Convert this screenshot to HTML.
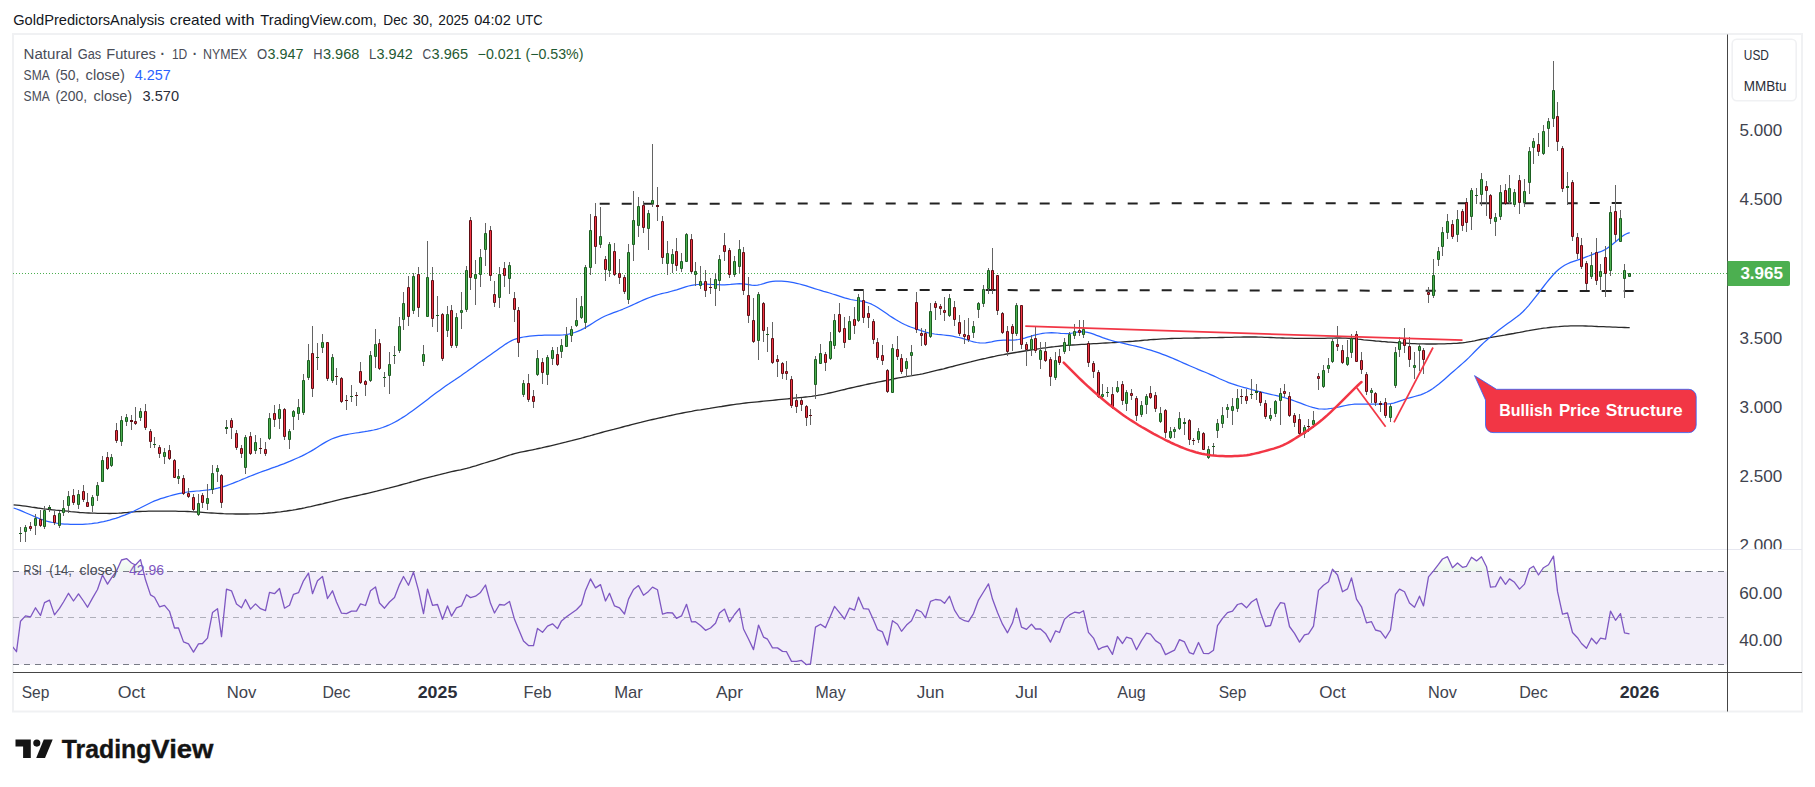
<!DOCTYPE html>
<html lang="en"><head><meta charset="utf-8"><title>Natural Gas Futures chart</title>
<style>html,body{margin:0;padding:0;background:#fff;}body{width:1815px;height:787px;overflow:hidden;}svg{display:block;}text{font-family:'Liberation Sans', 'DejaVu Sans', sans-serif;}</style>
</head><body>
<svg width="1815" height="787" viewBox="0 0 1815 787">
<defs>
<clipPath id="cpMain"><rect x="13" y="35" width="1714.5" height="514"/></clipPath>
<clipPath id="cpRsi"><rect x="13" y="550" width="1714.5" height="122"/></clipPath>
<clipPath id="cpAxisMain"><rect x="1728" y="35" width="74" height="514"/></clipPath>
<linearGradient id="gOB" x1="0" y1="551" x2="0" y2="571.5" gradientUnits="userSpaceOnUse"><stop offset="0" stop-color="#4caf50" stop-opacity="0.0"/><stop offset="1" stop-color="#4caf50" stop-opacity="0.1"/></linearGradient>
</defs>
<rect x="0" y="0" width="1815" height="787" fill="#ffffff"/>
<text y="24.8" font-size="15" fill="#131722"><tspan x="13.2" textLength="151.5" lengthAdjust="spacingAndGlyphs">GoldPredictorsAnalysis</tspan> <tspan x="169.8" textLength="51.2" lengthAdjust="spacingAndGlyphs">created</tspan> <tspan x="225.5" textLength="29" lengthAdjust="spacingAndGlyphs">with</tspan> <tspan x="260.3" textLength="116.5" lengthAdjust="spacingAndGlyphs">TradingView.com,</tspan> <tspan x="383.3" textLength="24.3" lengthAdjust="spacingAndGlyphs">Dec</tspan> <tspan x="412.7" textLength="20.2" lengthAdjust="spacingAndGlyphs">30,</tspan> <tspan x="438.3" textLength="30.4" lengthAdjust="spacingAndGlyphs">2025</tspan> <tspan x="474.2" textLength="36.6" lengthAdjust="spacingAndGlyphs">04:02</tspan> <tspan x="515.9" textLength="26.6" lengthAdjust="spacingAndGlyphs">UTC</tspan></text>
<rect x="13" y="34" width="1789" height="677.5" fill="#ffffff" stroke="#f0f1f3" stroke-width="2"/>
<rect x="13" y="549" width="1789" height="1" fill="#e6e7f0"/>
<g clip-path="url(#cpRsi)">
<rect x="13" y="571.5" width="1714.5" height="93" fill="#7e57c2" fill-opacity="0.1"/>
<path d="M116.5 571.5 L116.5 571.1 L117.1 569.7 L117.8 568.3 L118.4 566.9 L119 565.5 L119.6 564.2 L120.2 562.8 L120.9 561.4 L121.5 560 L122.1 559.8 L122.8 559.6 L123.4 559.4 L124 559.3 L124.6 559.1 L125.2 558.9 L125.9 558.8 L126.5 558.6 L127.1 559.2 L127.8 559.7 L128.4 560.3 L129 560.8 L129.6 561.4 L130.2 561.9 L130.9 562.5 L131.5 563 L132 563.3 L132.5 563.5 L133 563.8 L133.5 564 L134 564.2 L134.5 564.5 L135 564.7 L135.5 565 L136.1 564.3 L136.8 563.6 L137.4 562.9 L138 562.3 L138.6 561.6 L139.2 560.9 L139.9 560.2 L140.5 559.6 L141.1 562.1 L141.8 564.6 L142.4 567.2 L143 569.7 L143 571.5 Z" fill="url(#gOB)"/>
<path d="M1332 571.5 L1332 570.8 L1332.5 569.2 L1333.1 569.9 L1333.8 570.7 L1334.4 571.4 L1334.4 571.5 Z" fill="url(#gOB)"/>
<path d="M1433.5 571.5 L1433.5 570.8 L1434.1 570 L1434.8 569.2 L1435.4 568.4 L1436 567.6 L1436.6 566.8 L1437.2 566 L1437.9 565.2 L1438.5 564.4 L1439 563.7 L1439.5 563 L1440 562.4 L1440.5 561.7 L1441 561 L1441.5 560.3 L1442 559.7 L1442.5 559 L1443.1 558.7 L1443.8 558.4 L1444.4 558.1 L1445 557.8 L1445.6 557.5 L1446.2 557.3 L1446.9 557 L1447.5 556.7 L1448.1 558.1 L1448.8 559.4 L1449.4 560.8 L1450 562.2 L1450.6 563.5 L1451.2 564.9 L1451.9 566.3 L1452.5 567.7 L1453.1 567.1 L1453.8 566.5 L1454.4 565.9 L1455 565.4 L1455.6 564.8 L1456.2 564.2 L1456.9 563.6 L1457.5 563 L1458.1 563.6 L1458.8 564.1 L1459.4 564.6 L1460 565.2 L1460.6 565.7 L1461.2 566.2 L1461.9 566.8 L1462.5 567.3 L1463 567.2 L1463.5 567 L1464 566.9 L1464.5 566.8 L1465 566.7 L1465.5 566.6 L1466 566.4 L1466.5 566.3 L1467.1 565.2 L1467.8 564.1 L1468.4 562.9 L1469 561.8 L1469.6 560.7 L1470.2 559.5 L1470.9 558.4 L1471.5 557.3 L1472.1 557.7 L1472.8 558.2 L1473.4 558.6 L1474 559.1 L1474.6 559.5 L1475.2 560 L1475.9 560.5 L1476.5 560.9 L1477.1 560.4 L1477.8 559.9 L1478.4 559.3 L1479 558.8 L1479.6 558.3 L1480.2 557.7 L1480.9 557.2 L1481.5 556.7 L1482.1 557.9 L1482.8 559.2 L1483.4 560.4 L1484 561.7 L1484.6 562.9 L1485.2 564.2 L1485.9 565.5 L1486.5 566.7 L1487 569.3 L1487 571.5 Z" fill="url(#gOB)"/>
<path d="M1528.9 571.5 L1528.9 570.7 L1529.5 568.8 L1530 568.5 L1530.5 568.2 L1531 567.9 L1531.5 567.6 L1532 567.3 L1532.5 566.9 L1533 566.6 L1533.5 566.3 L1534.1 567.4 L1534.8 568.5 L1535.4 569.6 L1536 570.7 L1536 571.5 Z" fill="url(#gOB)"/>
<path d="M1541 571.5 L1541 571.3 L1541.6 570.4 L1542.2 569.5 L1542.9 568.6 L1543.5 567.7 L1544.1 567.3 L1544.8 566.9 L1545.4 566.6 L1546 566.2 L1546.6 565.9 L1547.2 565.5 L1547.9 565.1 L1548.5 564.8 L1549.1 563.7 L1549.8 562.6 L1550.4 561.5 L1551 560.4 L1551.6 559.4 L1552.2 558.3 L1552.9 557.2 L1553.5 556.1 L1554 560.5 L1554.5 564.9 L1555 569.3 L1555 571.5 Z" fill="url(#gOB)"/>
<line x1="13" y1="571.5" x2="1727.5" y2="571.5" stroke="#787b86" stroke-width="1" stroke-dasharray="6 5"/>
<line x1="13" y1="617.5" x2="1727.5" y2="617.5" stroke="#787b86" stroke-opacity="0.55" stroke-width="1" stroke-dasharray="6 5"/>
<line x1="13" y1="664.5" x2="1727.5" y2="664.5" stroke="#787b86" stroke-width="1" stroke-dasharray="6 5"/>
<path d="M11.5 645.4 L16.5 651.7 L20.5 621.3 L25.5 615.9 L30.5 617 L35.5 607.8 L40.5 615.5 L44.5 602.6 L49.5 600.1 L54.5 614.9 L59.5 608.4 L63.5 602 L68.5 593.3 L73.5 601 L78.5 593.9 L83.5 601 L87.5 607.2 L92.5 598.1 L97.5 589.5 L102.5 575 L107.5 584.1 L111.5 577.9 L116.5 571.1 L121.5 560 L126.5 558.6 L131.5 563 L135.5 565 L140.5 559.6 L145.5 579.8 L150.5 594.9 L154.5 597.2 L159.5 606.8 L164.5 605.3 L169.5 611.3 L174.5 628 L178.5 628 L183.5 641.9 L188.5 643.8 L193.5 652.1 L198.5 643.8 L202.5 643.5 L207.5 638.1 L212.5 612.6 L217.5 608.7 L221.5 636.7 L226.5 589.1 L231.5 590.8 L236.5 603.9 L241.5 607.8 L245.5 599.5 L250.5 609.1 L255.5 603.9 L260.5 608.7 L265.5 610.7 L269.5 592.4 L274.5 593.7 L279.5 588.5 L284.5 608.2 L289.5 605.3 L293.5 594.3 L298.5 592.7 L303.5 580.8 L308.5 573.1 L312.5 593.7 L317.5 580.8 L322.5 576.5 L327.5 598.5 L332.5 590.8 L336.5 602 L341.5 613.2 L346.5 613.6 L351.5 611.1 L356.5 611.1 L360.5 603.9 L365.5 605.5 L370.5 590.8 L375.5 587 L379.5 603 L384.5 608.2 L389.5 602 L394.5 597.6 L399.5 584.6 L403.5 576.5 L408.5 585.2 L413.5 572.1 L418.5 590.4 L423.5 613.6 L427.5 589.1 L432.5 605.3 L437.5 604.5 L442.5 619.3 L447.5 605.9 L451.5 616.1 L456.5 607.8 L461.5 605.9 L466.5 594.7 L470.5 597.6 L475.5 596.2 L480.5 592.4 L485.5 585 L490.5 603.3 L494.5 613 L499.5 604.5 L504.5 605.1 L509.5 601.4 L514.5 619.3 L518.5 629 L523.5 641.1 L528.5 645.6 L533.5 645.6 L537.5 628.4 L542.5 632.3 L547.5 626.1 L552.5 623.8 L557.5 628.6 L561.5 620.9 L566.5 616.8 L571.5 613.2 L576.5 609.7 L581.5 604.5 L585.5 590.4 L590.5 578.9 L595.5 587.9 L600.5 584.6 L605.5 601 L609.5 593.3 L614.5 605.9 L619.5 607.8 L624.5 614 L628.5 599.1 L633.5 589.5 L638.5 585.6 L643.5 595.2 L648.5 591.4 L652.5 587.1 L657.5 589.8 L662.5 614.1 L667.5 612.6 L672.5 613 L676.5 618.4 L681.5 615.9 L686.5 604.3 L691.5 621.9 L695.5 621.7 L700.5 625.5 L705.5 630.3 L710.5 628 L715.5 623.2 L719.5 613 L724.5 609.1 L729.5 621.9 L734.5 614.5 L739.5 608.4 L743.5 629 L748.5 639 L753.5 649.6 L758.5 625.1 L763.5 637.1 L767.5 639.2 L772.5 647.9 L777.5 647.9 L782.5 651.4 L786.5 651.7 L791.5 661.4 L796.5 661.4 L801.5 660.4 L806.5 664.7 L810.5 663.9 L815.5 627.1 L820.5 624.2 L825.5 627.6 L830.5 616.1 L834.5 606.4 L839.5 612.6 L844.5 619 L849.5 608.2 L854.5 610.1 L858.5 597.2 L863.5 608.7 L868.5 609.1 L873.5 619.9 L877.5 629.6 L882.5 631.9 L887.5 645 L892.5 620.7 L897.5 624.2 L901.5 631.3 L906.5 625.1 L911.5 620.7 L916.5 609.7 L921.5 612 L925.5 617.8 L930.5 601.4 L935.5 599.5 L940.5 600.1 L944.5 603.3 L949.5 596.2 L954.5 610.1 L959.5 618 L964.5 620.7 L968.5 621.7 L973.5 613.6 L978.5 600.1 L983.5 592 L988.5 583.9 L992.5 599.1 L997.5 612.6 L1002.5 624.2 L1007.5 632.8 L1012.5 622.8 L1016.5 608.2 L1021.5 627.1 L1026.5 629.4 L1031.5 624.2 L1035.5 629 L1040.5 629 L1045.5 633.4 L1050.5 642.1 L1055.5 630.9 L1059.5 632.5 L1064.5 619.3 L1069.5 614.9 L1074.5 612.2 L1079.5 613 L1083.5 610.7 L1088.5 632.3 L1093.5 638.1 L1098.5 649.6 L1102.5 647.3 L1107.5 646 L1112.5 654.4 L1117.5 636.7 L1122.5 643.5 L1126.5 637.1 L1131.5 638.6 L1136.5 649.8 L1141.5 640.6 L1146.5 633.2 L1150.5 634.2 L1155.5 640.6 L1160.5 644 L1165.5 654.6 L1170.5 652.1 L1174.5 650.2 L1179.5 639.6 L1184.5 641.9 L1189.5 652.7 L1193.5 654.1 L1198.5 642.5 L1203.5 653.3 L1208.5 653.7 L1213.5 650.2 L1217.5 625.7 L1222.5 618.4 L1227.5 612.6 L1232.5 611.1 L1237.5 604.5 L1241.5 603.3 L1246.5 607.8 L1251.5 602 L1256.5 598.7 L1260.5 612.6 L1265.5 626.5 L1270.5 625.5 L1275.5 610.3 L1280.5 602.6 L1284.5 603.3 L1289.5 626.5 L1294.5 633.4 L1299.5 642.1 L1304.5 634.8 L1308.5 633.8 L1313.5 626.1 L1318.5 590.4 L1323.5 585.2 L1328.5 581.7 L1332.5 569.2 L1337.5 575 L1342.5 591.8 L1347.5 588.9 L1351.5 577.9 L1356.5 599.1 L1361.5 606.8 L1366.5 622.8 L1371.5 621.7 L1375.5 630 L1380.5 631.3 L1385.5 638.2 L1390.5 630 L1395.5 594.3 L1399.5 589.1 L1404.5 591.8 L1409.5 603 L1414.5 607.2 L1419.5 596.2 L1423.5 605.9 L1428.5 576.9 L1433.5 570.8 L1438.5 564.4 L1442.5 559 L1447.5 556.7 L1452.5 567.7 L1457.5 563 L1462.5 567.3 L1466.5 566.3 L1471.5 557.3 L1476.5 560.9 L1481.5 556.7 L1486.5 566.7 L1490.5 587.1 L1495.5 586.6 L1500.5 576.9 L1505.5 584.3 L1509.5 578.9 L1514.5 582.3 L1519.5 589.1 L1524.5 584.1 L1529.5 568.8 L1533.5 566.3 L1538.5 575 L1543.5 567.7 L1548.5 564.8 L1553.5 556.1 L1557.5 591.4 L1562.5 614.1 L1567.5 613 L1572.5 632.5 L1577.5 637.7 L1581.5 643.5 L1586.5 648.3 L1591.5 638.2 L1596.5 643.8 L1600.5 638.2 L1605.5 639.2 L1610.5 611.1 L1615.5 620.3 L1620.5 613.6 L1624.5 632.8 L1629.5 633.8" fill="none" stroke="#7e57c2" stroke-width="1.3" stroke-linejoin="round"/>
</g>
<text y="575.2" font-size="14" fill="#4a4d57"><tspan x="23.5" textLength="18.4" lengthAdjust="spacingAndGlyphs">RSI</tspan> <tspan x="49.3" textLength="22.7" lengthAdjust="spacingAndGlyphs">(14,</tspan> <tspan x="79.5" textLength="37.8" lengthAdjust="spacingAndGlyphs">close)</tspan></text>
<text x="129" y="575.2" font-size="14" fill="#7e57c2" textLength="35" lengthAdjust="spacingAndGlyphs">42.96</text>
<g clip-path="url(#cpMain)">
<line x1="13" y1="273.5" x2="1727.5" y2="273.5" stroke="#4caf50" stroke-width="1" stroke-dasharray="1 2"/>
<line x1="599.7" y1="203.7" x2="1621.8" y2="203.1" stroke="#222222" stroke-width="2" stroke-dasharray="10 12"/>
<line x1="853.7" y1="289.9" x2="1633.8" y2="291" stroke="#222222" stroke-width="2" stroke-dasharray="10 12"/>
<path d="M13.6 504.8 L16.6 505.1 L19.6 505.4 L22.6 505.8 L25.6 506.2 L28.6 506.6 L31.6 507.1 L34.6 507.5 L37.6 508 L40.6 508.4 L43.6 508.8 L46.6 509.1 L49.6 509.5 L52.6 509.8 L55.6 510.1 L58.6 510.3 L61.6 510.6 L64.6 510.9 L67.6 511.2 L70.6 511.6 L73.6 511.9 L76.6 512.2 L79.6 512.5 L82.6 512.7 L85.6 512.9 L88.6 513 L91.6 513.1 L94.6 513.2 L97.6 513.3 L100.6 513.3 L103.6 513.4 L106.6 513.4 L109.6 513.5 L112.6 513.4 L115.6 513.3 L118.6 513.2 L121.6 513 L124.6 512.7 L127.6 512.5 L130.6 512.2 L133.6 511.9 L136.6 511.7 L139.6 511.5 L142.6 511.4 L145.6 511.3 L148.6 511.2 L151.6 511.2 L154.6 511.1 L157.6 511.1 L160.6 511.1 L163.6 511.1 L166.6 511.1 L169.6 511.2 L172.6 511.2 L175.6 511.2 L178.6 511.3 L181.6 511.3 L184.6 511.4 L187.6 511.5 L190.6 511.6 L193.6 511.8 L196.6 512 L199.6 512.2 L202.6 512.4 L205.6 512.6 L208.6 512.8 L211.6 513 L214.6 513.2 L217.6 513.4 L220.6 513.5 L223.6 513.7 L226.6 513.8 L229.6 513.9 L232.6 513.9 L235.6 514 L238.6 514 L241.6 514 L244.6 514 L247.6 514 L250.6 513.9 L253.6 513.9 L256.6 513.8 L259.6 513.6 L262.6 513.5 L265.6 513.3 L268.6 513 L271.6 512.8 L274.6 512.5 L277.6 512.1 L280.6 511.8 L283.6 511.4 L286.6 511 L289.6 510.5 L292.6 510.1 L295.6 509.6 L298.6 509 L301.6 508.5 L304.6 507.9 L307.6 507.2 L310.6 506.6 L313.6 505.9 L316.6 505.2 L319.6 504.5 L322.6 503.8 L325.6 503 L328.6 502.3 L331.6 501.6 L334.6 500.8 L337.6 500.1 L340.6 499.4 L343.6 498.7 L346.6 498 L349.6 497.3 L352.6 496.6 L355.6 496 L358.6 495.3 L361.6 494.7 L364.6 494 L367.6 493.3 L370.6 492.6 L373.6 491.9 L376.6 491.2 L379.6 490.4 L382.6 489.7 L385.6 488.9 L388.6 488.2 L391.6 487.4 L394.6 486.6 L397.6 485.8 L400.6 485 L403.6 484.2 L406.6 483.4 L409.6 482.5 L412.6 481.7 L415.6 480.8 L418.6 480 L421.6 479.2 L424.6 478.4 L427.6 477.6 L430.6 476.8 L433.6 476.1 L436.6 475.3 L439.6 474.6 L442.6 473.8 L445.6 473.1 L448.6 472.3 L451.6 471.6 L454.6 471 L457.6 470.4 L460.6 469.8 L463.6 469.1 L466.6 468.4 L469.6 467.6 L472.6 466.7 L475.6 465.8 L478.6 464.8 L481.6 463.9 L484.6 463 L487.6 462.1 L490.6 461.2 L493.6 460.3 L496.6 459.4 L499.6 458.4 L502.6 457.4 L505.6 456.4 L508.6 455.4 L511.6 454.5 L514.6 453.7 L517.6 452.9 L520.6 452.2 L523.6 451.6 L526.6 451 L529.6 450.4 L532.6 449.8 L535.6 449.2 L538.6 448.5 L541.6 447.9 L544.6 447.2 L547.6 446.5 L550.6 445.8 L553.6 445.1 L556.6 444.4 L559.6 443.7 L562.6 442.9 L565.6 442.2 L568.6 441.4 L571.6 440.7 L574.6 439.9 L577.6 439.1 L580.6 438.4 L583.6 437.5 L586.6 436.7 L589.6 435.9 L592.6 435 L595.6 434.2 L598.6 433.3 L601.6 432.5 L604.6 431.7 L607.6 430.9 L610.6 430.1 L613.6 429.4 L616.6 428.6 L619.6 427.8 L622.6 427 L625.6 426.2 L628.6 425.5 L631.6 424.7 L634.6 423.9 L637.6 423.1 L640.6 422.4 L643.6 421.6 L646.6 420.9 L649.6 420.2 L652.6 419.5 L655.6 418.8 L658.6 418.1 L661.6 417.5 L664.6 416.8 L667.6 416.1 L670.6 415.5 L673.6 414.8 L676.6 414.2 L679.6 413.6 L682.6 413 L685.6 412.4 L688.6 411.8 L691.6 411.3 L694.6 410.7 L697.6 410.2 L700.6 409.8 L703.6 409.3 L706.6 408.8 L709.6 408.4 L712.6 407.9 L715.6 407.4 L718.6 406.9 L721.6 406.5 L724.6 406 L727.6 405.5 L730.6 405 L733.6 404.6 L736.6 404.2 L739.6 403.8 L742.6 403.4 L745.6 403 L748.6 402.7 L751.6 402.4 L754.6 402.1 L757.6 401.8 L760.6 401.5 L763.6 401.2 L766.6 400.9 L769.6 400.6 L772.6 400.3 L775.6 400 L778.6 399.7 L781.6 399.4 L784.6 399.1 L787.6 398.8 L790.6 398.5 L793.6 398.2 L796.6 397.9 L799.6 397.6 L802.6 397.3 L805.6 397 L808.6 396.7 L811.6 396.3 L814.6 395.8 L817.6 395.4 L820.6 394.8 L823.6 394.3 L826.6 393.7 L829.6 393 L832.6 392.3 L835.6 391.6 L838.6 390.9 L841.6 390.2 L844.6 389.5 L847.6 388.7 L850.6 388 L853.6 387.3 L856.6 386.6 L859.6 386 L862.6 385.3 L865.6 384.7 L868.6 384 L871.6 383.4 L874.6 382.8 L877.6 382.2 L880.6 381.6 L883.6 381 L886.6 380.4 L889.6 379.8 L892.6 379.2 L895.6 378.5 L898.6 377.9 L901.6 377.4 L904.6 376.8 L907.6 376.3 L910.6 375.9 L913.6 375.4 L916.6 374.9 L919.6 374.4 L922.6 373.8 L925.6 373.1 L928.6 372.4 L931.6 371.6 L934.6 370.9 L937.6 370.2 L940.6 369.5 L943.6 368.8 L946.6 368 L949.6 367.2 L952.6 366.5 L955.6 365.7 L958.6 364.9 L961.6 364.1 L964.6 363.3 L967.6 362.6 L970.6 361.9 L973.6 361.1 L976.6 360.4 L979.6 359.7 L982.6 359 L985.6 358.4 L988.6 357.7 L991.6 357 L994.6 356.4 L997.6 355.7 L1000.6 355.1 L1003.6 354.6 L1006.6 354 L1009.6 353.5 L1012.6 353 L1015.6 352.5 L1018.6 352 L1021.6 351.5 L1024.6 351 L1027.6 350.5 L1030.6 350 L1033.6 349.6 L1036.6 349.1 L1039.6 348.7 L1042.6 348.2 L1045.6 347.8 L1048.6 347.4 L1051.6 347 L1054.6 346.7 L1057.6 346.3 L1060.6 346 L1063.6 345.7 L1066.6 345.4 L1069.6 345.2 L1072.6 345 L1075.6 344.8 L1078.6 344.6 L1081.6 344.4 L1084.6 344.3 L1087.6 344.1 L1090.6 343.9 L1093.6 343.7 L1096.6 343.6 L1099.6 343.4 L1102.6 343.2 L1105.6 343 L1108.6 342.8 L1111.6 342.7 L1114.6 342.5 L1117.6 342.3 L1120.6 342.1 L1123.6 341.9 L1126.6 341.7 L1129.6 341.5 L1132.6 341.3 L1135.6 341 L1138.6 340.8 L1141.6 340.5 L1144.6 340.2 L1147.6 340 L1150.6 339.7 L1153.6 339.5 L1156.6 339.3 L1159.6 339.1 L1162.6 338.9 L1165.6 338.8 L1168.6 338.6 L1171.6 338.5 L1174.6 338.4 L1177.6 338.4 L1180.6 338.3 L1183.6 338.2 L1186.6 338.2 L1189.6 338.1 L1192.6 338.1 L1195.6 338 L1198.6 338 L1201.6 337.9 L1204.6 337.8 L1207.6 337.8 L1210.6 337.7 L1213.6 337.7 L1216.6 337.6 L1219.6 337.5 L1222.6 337.5 L1225.6 337.4 L1228.6 337.4 L1231.6 337.3 L1234.6 337.2 L1237.6 337.1 L1240.6 337.1 L1243.6 337 L1246.6 337 L1249.6 337 L1252.6 337 L1255.6 337 L1258.6 337.1 L1261.6 337.2 L1264.6 337.3 L1267.6 337.4 L1270.6 337.5 L1273.6 337.6 L1276.6 337.8 L1279.6 337.9 L1282.6 338 L1285.6 338.1 L1288.6 338.2 L1291.6 338.2 L1294.6 338.3 L1297.6 338.3 L1300.6 338.4 L1303.6 338.4 L1306.6 338.4 L1309.6 338.4 L1312.6 338.4 L1315.6 338.4 L1318.6 338.4 L1321.6 338.3 L1324.6 338.3 L1327.6 338.2 L1330.6 338.1 L1333.6 338.1 L1336.6 338 L1339.6 338 L1342.6 338.1 L1345.6 338.1 L1348.6 338.3 L1351.6 338.5 L1354.6 338.7 L1357.6 339.1 L1360.6 339.4 L1363.6 339.8 L1366.6 340.1 L1369.6 340.4 L1372.6 340.7 L1375.6 341 L1378.6 341.2 L1381.6 341.5 L1384.6 341.7 L1387.6 342 L1390.6 342.2 L1393.6 342.4 L1396.6 342.6 L1399.6 342.9 L1402.6 343.1 L1405.6 343.2 L1408.6 343.4 L1411.6 343.6 L1414.6 343.7 L1417.6 343.8 L1420.6 343.9 L1423.6 343.9 L1426.6 344 L1429.6 344 L1432.6 344 L1435.6 344 L1438.6 343.9 L1441.6 343.9 L1444.6 343.8 L1447.6 343.7 L1450.6 343.6 L1453.6 343.4 L1456.6 343.3 L1459.6 343 L1462.6 342.8 L1465.6 342.4 L1468.6 341.9 L1471.6 341.4 L1474.6 340.8 L1477.6 340.1 L1480.6 339.5 L1483.6 338.9 L1486.6 338.3 L1489.6 337.7 L1492.6 337.1 L1495.6 336.6 L1498.6 336.1 L1501.6 335.6 L1504.6 335.1 L1507.6 334.5 L1510.6 334 L1513.6 333.5 L1516.6 332.9 L1519.6 332.4 L1522.6 331.8 L1525.6 331.2 L1528.6 330.7 L1531.6 330.1 L1534.6 329.6 L1537.6 329.1 L1540.6 328.7 L1543.6 328.2 L1546.6 327.9 L1549.6 327.5 L1552.6 327.2 L1555.6 326.9 L1558.6 326.7 L1561.6 326.4 L1564.6 326.2 L1567.6 326.1 L1570.6 325.9 L1573.6 325.9 L1576.6 325.8 L1579.6 325.9 L1582.6 325.9 L1585.6 326 L1588.6 326.1 L1591.6 326.2 L1594.6 326.3 L1597.6 326.5 L1600.6 326.6 L1603.6 326.7 L1606.6 326.8 L1609.6 326.9 L1612.6 327.1 L1615.6 327.2 L1618.6 327.3 L1621.6 327.4 L1624.6 327.5 L1627.6 327.6 L1629.7 327.6" fill="none" stroke="#2a2a2a" stroke-width="1.3" stroke-linejoin="round"/>
<path d="M13.6 508 L16.6 509 L19.6 510.1 L22.6 511.4 L25.6 512.7 L28.6 514 L31.6 515.3 L34.6 516.6 L37.6 517.9 L40.6 519 L43.6 520.1 L46.6 521.1 L49.6 521.8 L52.6 522.5 L55.6 523 L58.6 523.5 L61.6 523.8 L64.6 524.1 L67.6 524.2 L70.6 524.4 L73.6 524.4 L76.6 524.4 L79.6 524.4 L82.6 524.3 L85.6 524.1 L88.6 523.9 L91.6 523.6 L94.6 523.2 L97.6 522.8 L100.6 522.2 L103.6 521.6 L106.6 520.9 L109.6 520.1 L112.6 519.2 L115.6 518.3 L118.6 517.3 L121.6 516.2 L124.6 515.1 L127.6 513.9 L130.6 512.6 L133.6 511.3 L136.6 509.8 L139.6 508.3 L142.6 506.7 L145.6 505.2 L148.6 503.7 L151.6 502.2 L154.6 500.9 L157.6 499.8 L160.6 498.7 L163.6 497.8 L166.6 496.9 L169.6 496 L172.6 495.2 L175.6 494.4 L178.6 493.7 L181.6 493.1 L184.6 492.5 L187.6 492 L190.6 491.6 L193.6 491.3 L196.6 491 L199.6 490.8 L202.6 490.5 L205.6 490.2 L208.6 489.8 L211.6 489.3 L214.6 488.8 L217.6 488.2 L220.6 487.4 L223.6 486.6 L226.6 485.6 L229.6 484.5 L232.6 483.4 L235.6 482.2 L238.6 481 L241.6 479.7 L244.6 478.5 L247.6 477.2 L250.6 476 L253.6 474.8 L256.6 473.7 L259.6 472.5 L262.6 471.4 L265.6 470.4 L268.6 469.3 L271.6 468.2 L274.6 467.2 L277.6 466.1 L280.6 464.9 L283.6 463.8 L286.6 462.6 L289.6 461.4 L292.6 460.1 L295.6 458.8 L298.6 457.5 L301.6 456.1 L304.6 454.6 L307.6 453 L310.6 451.4 L313.6 449.6 L316.6 447.7 L319.6 445.8 L322.6 443.9 L325.6 442.1 L328.6 440.5 L331.6 439 L334.6 437.8 L337.6 436.8 L340.6 435.9 L343.6 435.2 L346.6 434.6 L349.6 434 L352.6 433.5 L355.6 433 L358.6 432.6 L361.6 432.1 L364.6 431.7 L367.6 431.2 L370.6 430.6 L373.6 430 L376.6 429.3 L379.6 428.5 L382.6 427.5 L385.6 426.4 L388.6 425.2 L391.6 423.8 L394.6 422.2 L397.6 420.6 L400.6 418.8 L403.6 416.9 L406.6 414.9 L409.6 412.8 L412.6 410.7 L415.6 408.5 L418.6 406.3 L421.6 404 L424.6 401.7 L427.6 399.4 L430.6 397.1 L433.6 394.8 L436.6 392.6 L439.6 390.4 L442.6 388.3 L445.6 386.1 L448.6 384.1 L451.6 382 L454.6 380 L457.6 377.9 L460.6 375.9 L463.6 373.8 L466.6 371.8 L469.6 369.6 L472.6 367.5 L475.6 365.3 L478.6 363.1 L481.6 361 L484.6 358.9 L487.6 356.8 L490.6 354.7 L493.6 352.6 L496.6 350.5 L499.6 348.3 L502.6 346.2 L505.6 344.1 L508.6 342.3 L511.6 340.6 L514.6 339.3 L517.6 338.3 L520.6 337.6 L523.6 337 L526.6 336.6 L529.6 336.2 L532.6 335.9 L535.6 335.6 L538.6 335.4 L541.6 335.3 L544.6 335.2 L547.6 335.2 L550.6 335.2 L553.6 335.2 L556.6 335.2 L559.6 335.1 L562.6 335 L565.6 334.6 L568.6 334.1 L571.6 333.4 L574.6 332.5 L577.6 331.4 L580.6 330.1 L583.6 328.6 L586.6 326.9 L589.6 325.1 L592.6 323.2 L595.6 321.3 L598.6 319.5 L601.6 317.8 L604.6 316.3 L607.6 315 L610.6 313.8 L613.6 312.7 L616.6 311.6 L619.6 310.5 L622.6 309.3 L625.6 308 L628.6 306.7 L631.6 305.4 L634.6 304 L637.6 302.6 L640.6 301.2 L643.6 299.9 L646.6 298.7 L649.6 297.5 L652.6 296.4 L655.6 295.4 L658.6 294.5 L661.6 293.7 L664.6 293 L667.6 292.3 L670.6 291.5 L673.6 290.7 L676.6 289.8 L679.6 288.8 L682.6 287.8 L685.6 286.8 L688.6 286 L691.6 285.3 L694.6 284.8 L697.6 284.5 L700.6 284.3 L703.6 284.2 L706.6 284.2 L709.6 284.3 L712.6 284.5 L715.6 284.6 L718.6 284.7 L721.6 284.8 L724.6 284.8 L727.6 284.6 L730.6 284.4 L733.6 284.1 L736.6 283.9 L739.6 283.7 L742.6 283.8 L745.6 284.1 L748.6 284.6 L751.6 285.1 L754.6 285.4 L757.6 285.1 L760.6 284.5 L763.6 283.6 L766.6 282.6 L769.6 281.8 L772.6 281.3 L775.6 281.1 L778.6 281.1 L781.6 281.2 L784.6 281.4 L787.6 281.7 L790.6 282.1 L793.6 282.6 L796.6 283.3 L799.6 284 L802.6 284.8 L805.6 285.7 L808.6 286.7 L811.6 287.6 L814.6 288.6 L817.6 289.5 L820.6 290.4 L823.6 291.3 L826.6 292.1 L829.6 293 L832.6 294 L835.6 294.9 L838.6 295.9 L841.6 296.9 L844.6 297.9 L847.6 298.7 L850.6 299.5 L853.6 300 L856.6 300.5 L859.6 300.9 L862.6 301.4 L865.6 302.1 L868.6 303 L871.6 304.2 L874.6 305.8 L877.6 307.5 L880.6 309.5 L883.6 311.5 L886.6 313.6 L889.6 315.7 L892.6 317.6 L895.6 319.5 L898.6 321.3 L901.6 323 L904.6 324.5 L907.6 325.8 L910.6 327 L913.6 328 L916.6 329.1 L919.6 330.1 L922.6 331.1 L925.6 332.1 L928.6 332.9 L931.6 333.5 L934.6 334 L937.6 334.4 L940.6 334.7 L943.6 335 L946.6 335.3 L949.6 335.7 L952.6 336.2 L955.6 336.8 L958.6 337.5 L961.6 338.2 L964.6 339.1 L967.6 340 L970.6 341 L973.6 341.8 L976.6 342.5 L979.6 342.9 L982.6 343 L985.6 342.8 L988.6 342.3 L991.6 341.8 L994.6 341.2 L997.6 340.7 L1000.6 340.4 L1003.6 340.2 L1006.6 340.2 L1009.6 340.2 L1012.6 340.1 L1015.6 339.9 L1018.6 339.5 L1021.6 338.9 L1024.6 338.1 L1027.6 337.2 L1030.6 336.3 L1033.6 335.4 L1036.6 334.6 L1039.6 334 L1042.6 333.4 L1045.6 333 L1048.6 332.8 L1051.6 332.7 L1054.6 332.8 L1057.6 333 L1060.6 333.3 L1063.6 333.5 L1066.6 333.6 L1069.6 333.5 L1072.6 333 L1075.6 332.4 L1078.6 331.8 L1081.6 331.6 L1084.6 331.8 L1087.6 332.3 L1090.6 333.1 L1093.6 334.1 L1096.6 335.3 L1099.6 336.4 L1102.6 337.6 L1105.6 338.7 L1108.6 339.7 L1111.6 340.5 L1114.6 341.3 L1117.6 342 L1120.6 342.7 L1123.6 343.4 L1126.6 344.1 L1129.6 344.8 L1132.6 345.5 L1135.6 346.2 L1138.6 346.9 L1141.6 347.7 L1144.6 348.5 L1147.6 349.4 L1150.6 350.2 L1153.6 351.2 L1156.6 352.1 L1159.6 353.2 L1162.6 354.3 L1165.6 355.4 L1168.6 356.6 L1171.6 357.8 L1174.6 359.1 L1177.6 360.4 L1180.6 361.7 L1183.6 363.1 L1186.6 364.4 L1189.6 365.7 L1192.6 367 L1195.6 368.3 L1198.6 369.6 L1201.6 370.8 L1204.6 372 L1207.6 373.3 L1210.6 374.6 L1213.6 375.9 L1216.6 377.3 L1219.6 378.7 L1222.6 380 L1225.6 381.3 L1228.6 382.6 L1231.6 383.7 L1234.6 384.7 L1237.6 385.7 L1240.6 386.5 L1243.6 387.4 L1246.6 388.2 L1249.6 389 L1252.6 389.8 L1255.6 390.6 L1258.6 391.4 L1261.6 392.1 L1264.6 392.9 L1267.6 393.6 L1270.6 394.3 L1273.6 395 L1276.6 395.7 L1279.6 396.4 L1282.6 397.2 L1285.6 398 L1288.6 399 L1291.6 399.9 L1294.6 401 L1297.6 402.1 L1300.6 403.2 L1303.6 404.3 L1306.6 405.5 L1309.6 406.5 L1312.6 407.4 L1315.6 408.2 L1318.6 408.8 L1321.6 409 L1324.6 409.1 L1327.6 408.9 L1330.6 408.5 L1333.6 408.1 L1336.6 407.5 L1339.6 406.8 L1342.6 406.1 L1345.6 405.5 L1348.6 404.9 L1351.6 404.5 L1354.6 404.2 L1357.6 404.1 L1360.6 404.1 L1363.6 404.1 L1366.6 404.1 L1369.6 404.1 L1372.6 404.1 L1375.6 404.1 L1378.6 404.1 L1381.6 404.2 L1384.6 404.2 L1387.6 404 L1390.6 403.7 L1393.6 403.1 L1396.6 402.2 L1399.6 401.1 L1402.6 400.1 L1405.6 399 L1408.6 398.1 L1411.6 397.3 L1414.6 396.5 L1417.6 395.7 L1420.6 394.8 L1423.6 393.6 L1426.6 392.3 L1429.6 390.6 L1432.6 388.7 L1435.6 386.6 L1438.6 384.3 L1441.6 381.8 L1444.6 379.2 L1447.6 376.5 L1450.6 373.8 L1453.6 371.2 L1456.6 368.6 L1459.6 366 L1462.6 363.4 L1465.6 360.7 L1468.6 357.9 L1471.6 354.9 L1474.6 351.8 L1477.6 348.8 L1480.6 345.8 L1483.6 342.9 L1486.6 340.2 L1489.6 337.6 L1492.6 335.1 L1495.6 332.7 L1498.6 330.3 L1501.6 328 L1504.6 325.8 L1507.6 323.6 L1510.6 321.5 L1513.6 319.3 L1516.6 317.1 L1519.6 314.7 L1522.6 312 L1525.6 308.9 L1528.6 305.6 L1531.6 301.9 L1534.6 298.1 L1537.6 294.3 L1540.6 290.3 L1543.6 286.5 L1546.6 282.7 L1549.6 279 L1552.6 275.5 L1555.6 272.3 L1558.6 269.5 L1561.6 267.2 L1564.6 265.3 L1567.6 263.7 L1570.6 262.4 L1573.6 261.3 L1576.6 260.3 L1579.6 259.3 L1582.6 258.3 L1585.6 257.1 L1588.6 256 L1591.6 254.8 L1594.6 253.7 L1597.6 252.7 L1600.6 251.7 L1603.6 250.4 L1606.6 248.7 L1609.6 246.6 L1612.6 244.2 L1615.6 241.7 L1618.6 239.2 L1621.6 236.8 L1624.6 234.8 L1627.6 233.3 L1629.7 232.7" fill="none" stroke="#2962ff" stroke-width="1.25" stroke-linejoin="round"/>
<path d="M20.5 527V542M25.5 525V542M30.5 522V531M35.5 514V535M40.5 510V527M44.5 506V529M49.5 505V512M54.5 511V525M59.5 511V528M63.5 500V516M68.5 491V513M73.5 489V505M78.5 490V509M83.5 485V502M87.5 493V507M92.5 495V512M97.5 482V501M102.5 456V482M107.5 452V470M111.5 454V467M116.5 423V443M121.5 416V446M126.5 414V426M131.5 415V430M135.5 407V425M140.5 408V421M145.5 404V430M150.5 429V448M154.5 437V448M159.5 445V458M164.5 448V464M169.5 445V460M174.5 459V478M178.5 469V484M183.5 475V495M188.5 488V498M193.5 494V511M198.5 494V516M202.5 493V508M207.5 484V510M212.5 465V494M217.5 465V482M221.5 474V508M226.5 420V434M231.5 418V439M236.5 430V450M241.5 445V458M245.5 435V474M250.5 432V455M255.5 435V454M260.5 438V454M265.5 442V456M269.5 413V440M274.5 405V427M279.5 404V429M284.5 408V440M289.5 429V449M293.5 410V430M298.5 399V420M303.5 374V415M308.5 344V380M312.5 326V397M317.5 343V370M322.5 334V353M327.5 342V381M332.5 354V383M336.5 368V385M341.5 377V403M346.5 395V410M351.5 385V402M356.5 392V406M360.5 362V384M365.5 380V396M370.5 351V382M375.5 329V368M379.5 339V370M384.5 372V387M389.5 352V394M394.5 346V364M399.5 317V353M403.5 292V330M408.5 276V326M413.5 273V314M418.5 267V317M423.5 345V366M427.5 241V317M432.5 267V327M437.5 296V332M442.5 313V361M447.5 306V337M451.5 305V348M456.5 313V348M461.5 292V329M466.5 266V312M470.5 217V290M475.5 260V305M480.5 249V287M485.5 223V266M490.5 226V281M494.5 281V307M499.5 267V308M504.5 262V287M509.5 262V294M514.5 292V322M518.5 307V357M523.5 380V397M528.5 374V402M533.5 390V408M537.5 350V376M542.5 358V384M547.5 355V385M552.5 347V365M557.5 347V366M561.5 339V358M566.5 327V347M571.5 326V342M576.5 298V327M581.5 296V319M585.5 265V329M590.5 214V275M595.5 203V264M600.5 207V248M605.5 256V281M609.5 242V277M614.5 243V276M619.5 259V284M624.5 275V294M628.5 244V304M633.5 191V261M638.5 197V237M643.5 201V233M648.5 210V250M652.5 144V207M657.5 187V221M662.5 216V264M667.5 241V275M672.5 249V273M676.5 238V271M681.5 253V272M686.5 233V262M691.5 234V274M695.5 262V286M700.5 266V289M705.5 270V297M710.5 278V294M715.5 273V306M719.5 255V291M724.5 233V261M729.5 248V278M734.5 256V277M739.5 240V273M743.5 247V295M748.5 277V323M753.5 298V343M758.5 292V360M763.5 302V342M767.5 327V352M772.5 322V364M777.5 355V377M782.5 362V379M786.5 361V380M791.5 376V408M796.5 394V413M801.5 398V411M806.5 405V426M810.5 409V425M815.5 356V399M820.5 344V364M825.5 352V371M830.5 332V360M834.5 314V349M839.5 303V333M844.5 317V348M849.5 316V340M854.5 307V334M858.5 294V322M863.5 289V323M868.5 306V328M873.5 319V344M877.5 338V360M882.5 345V365M887.5 369V393M892.5 344V393M897.5 336V360M901.5 354V374M906.5 358V377M911.5 345V376M916.5 292V333M921.5 328V346M925.5 329V346M930.5 303V338M935.5 301V320M940.5 304V315M944.5 297V321M949.5 294V317M954.5 301V326M959.5 315V336M964.5 320V344M968.5 318V342M973.5 321V338M978.5 302V318M983.5 285V307M988.5 268V294M992.5 248V294M997.5 275V315M1002.5 312V334M1007.5 326V356M1012.5 324V351M1016.5 303V336M1021.5 305V349M1026.5 342V366M1031.5 335V356M1035.5 327V353M1040.5 342V369M1045.5 342V362M1050.5 357V386M1055.5 352V380M1059.5 349V365M1064.5 338V354M1069.5 332V351M1074.5 324V339M1079.5 320V336M1083.5 320V338M1088.5 341V367M1093.5 361V378M1098.5 370V398M1102.5 384V398M1107.5 387V397M1112.5 387V409M1117.5 381V393M1122.5 381V405M1126.5 390V411M1131.5 389V400M1136.5 396V421M1141.5 401V417M1146.5 394V414M1150.5 386V399M1155.5 392V412M1160.5 407V423M1165.5 409V438M1170.5 427V439M1174.5 427V438M1179.5 412V430M1184.5 418V435M1189.5 419V445M1193.5 438V445M1198.5 428V443M1203.5 432V450M1208.5 446V459M1213.5 443V455M1217.5 419V438M1222.5 407V428M1227.5 404V418M1232.5 398V425M1237.5 389V412M1241.5 389V404M1246.5 389V404M1251.5 379V399M1256.5 384V400M1260.5 391V406M1265.5 400V419M1270.5 408V421M1275.5 400V417M1280.5 388V425M1284.5 384V397M1289.5 392V417M1294.5 413V427M1299.5 414V435M1304.5 425V438M1308.5 419V432M1313.5 411V428M1318.5 373V390M1323.5 365V388M1328.5 358V373M1332.5 339V363M1337.5 326V351M1342.5 345V364M1347.5 340V366M1351.5 334V358M1356.5 331V362M1361.5 352V374M1366.5 372V395M1371.5 388V403M1375.5 392V406M1380.5 401V412M1385.5 398V418M1390.5 404V422M1395.5 347V388M1399.5 337V357M1404.5 328V353M1409.5 337V367M1414.5 352V379M1419.5 343V371M1423.5 348V374M1428.5 287V303M1433.5 259V298M1438.5 247V266M1442.5 227V256M1447.5 214V239M1452.5 220V239M1457.5 210V242M1462.5 209V231M1466.5 198V232M1471.5 188V230M1476.5 188V204M1481.5 173V206M1486.5 181V216M1490.5 194V224M1495.5 213V236M1500.5 185V220M1505.5 184V205M1509.5 175V204M1514.5 189V207M1519.5 175V214M1524.5 179V207M1529.5 147V194M1533.5 138V164M1538.5 133V156M1543.5 125V155M1548.5 118V147M1553.5 61V127M1557.5 102V151M1562.5 146V192M1567.5 172V205M1572.5 180V241M1577.5 233V259M1581.5 238V269M1586.5 261V290M1591.5 252V279M1596.5 238V285M1600.5 264V290M1605.5 246V297M1610.5 206V276M1615.5 185V242M1620.5 210V242M1624.5 264V298" stroke="#636363" stroke-width="1" fill="none"/>
<path d="M24.5 527.5H26.5V531.5H24.5ZM34.5 518.5H36.5V525.5H34.5ZM43.5 510.5H45.5V526.5H43.5ZM58.5 513.5H60.5V525.5H58.5ZM62.5 508.5H64.5V512.5H62.5ZM67.5 496.5H69.5V505.5H67.5ZM77.5 494.5H79.5V504.5H77.5ZM91.5 497.5H93.5V505.5H91.5ZM96.5 485.5H98.5V495.5H96.5ZM101.5 460.5H103.5V481.5H101.5ZM110.5 457.5H112.5V465.5H110.5ZM120.5 420.5H122.5V441.5H120.5ZM125.5 417.5H127.5V421.5H125.5ZM139.5 411.5H141.5V417.5H139.5ZM163.5 452.5H165.5V456.5H163.5ZM177.5 476.5H179.5V478.5H177.5ZM197.5 503.5H199.5V514.5H197.5ZM206.5 498.5H208.5V503.5H206.5ZM211.5 473.5H213.5V489.5H211.5ZM216.5 468.5H218.5V471.5H216.5ZM244.5 437.5H246.5V467.5H244.5ZM254.5 442.5H256.5V450.5H254.5ZM268.5 418.5H270.5V438.5H268.5ZM278.5 409.5H280.5V418.5H278.5ZM288.5 431.5H290.5V439.5H288.5ZM292.5 411.5H294.5V416.5H292.5ZM297.5 407.5H299.5V413.5H297.5ZM302.5 380.5H304.5V412.5H302.5ZM307.5 360.5H309.5V377.5H307.5ZM321.5 342.5H323.5V347.5H321.5ZM331.5 357.5H333.5V380.5H331.5ZM369.5 355.5H371.5V380.5H369.5ZM374.5 344.5H376.5V356.5H374.5ZM388.5 364.5H390.5V375.5H388.5ZM398.5 326.5H400.5V350.5H398.5ZM402.5 303.5H404.5V319.5H402.5ZM412.5 276.5H414.5V310.5H412.5ZM422.5 354.5H424.5V361.5H422.5ZM426.5 277.5H428.5V316.5H426.5ZM446.5 314.5H448.5V330.5H446.5ZM455.5 317.5H457.5V345.5H455.5ZM460.5 310.5H462.5V312.5H460.5ZM465.5 270.5H467.5V309.5H465.5ZM474.5 274.5H476.5V278.5H474.5ZM479.5 257.5H481.5V274.5H479.5ZM484.5 233.5H486.5V249.5H484.5ZM498.5 274.5H500.5V297.5H498.5ZM508.5 265.5H510.5V278.5H508.5ZM522.5 383.5H524.5V394.5H522.5ZM536.5 358.5H538.5V374.5H536.5ZM546.5 357.5H548.5V374.5H546.5ZM551.5 350.5H553.5V358.5H551.5ZM560.5 345.5H562.5V351.5H560.5ZM565.5 335.5H567.5V346.5H565.5ZM570.5 329.5H572.5V335.5H570.5ZM575.5 320.5H577.5V325.5H575.5ZM580.5 306.5H582.5V317.5H580.5ZM584.5 267.5H586.5V322.5H584.5ZM589.5 230.5H591.5V267.5H589.5ZM599.5 236.5H601.5V244.5H599.5ZM608.5 244.5H610.5V270.5H608.5ZM627.5 252.5H629.5V299.5H627.5ZM632.5 220.5H634.5V244.5H632.5ZM637.5 206.5H639.5V225.5H637.5ZM647.5 213.5H649.5V228.5H647.5ZM651.5 200.5H653.5V203.5H651.5ZM666.5 253.5H668.5V263.5H666.5ZM671.5 254.5H673.5V263.5H671.5ZM680.5 261.5H682.5V268.5H680.5ZM685.5 234.5H687.5V261.5H685.5ZM694.5 271.5H696.5V274.5H694.5ZM699.5 281.5H701.5V285.5H699.5ZM714.5 279.5H716.5V288.5H714.5ZM718.5 259.5H720.5V280.5H718.5ZM733.5 261.5H735.5V274.5H733.5ZM738.5 249.5H740.5V266.5H738.5ZM757.5 294.5H759.5V340.5H757.5ZM814.5 359.5H816.5V384.5H814.5ZM819.5 353.5H821.5V363.5H819.5ZM829.5 341.5H831.5V358.5H829.5ZM833.5 320.5H835.5V345.5H833.5ZM848.5 321.5H850.5V339.5H848.5ZM857.5 297.5H859.5V320.5H857.5ZM891.5 348.5H893.5V392.5H891.5ZM905.5 361.5H907.5V368.5H905.5ZM910.5 352.5H912.5V355.5H910.5ZM929.5 311.5H931.5V336.5H929.5ZM948.5 298.5H950.5V315.5H948.5ZM972.5 326.5H974.5V332.5H972.5ZM977.5 303.5H979.5V309.5H977.5ZM982.5 289.5H984.5V303.5H982.5ZM987.5 270.5H989.5V288.5H987.5ZM1015.5 305.5H1017.5V333.5H1015.5ZM1030.5 339.5H1032.5V349.5H1030.5ZM1039.5 350.5H1041.5V359.5H1039.5ZM1054.5 360.5H1056.5V377.5H1054.5ZM1063.5 342.5H1065.5V351.5H1063.5ZM1068.5 334.5H1070.5V345.5H1068.5ZM1073.5 331.5H1075.5V335.5H1073.5ZM1082.5 329.5H1084.5V334.5H1082.5ZM1101.5 394.5H1103.5V396.5H1101.5ZM1116.5 387.5H1118.5V391.5H1116.5ZM1125.5 392.5H1127.5V403.5H1125.5ZM1140.5 405.5H1142.5V414.5H1140.5ZM1145.5 396.5H1147.5V404.5H1145.5ZM1159.5 413.5H1161.5V421.5H1159.5ZM1169.5 431.5H1171.5V437.5H1169.5ZM1173.5 429.5H1175.5V431.5H1173.5ZM1178.5 418.5H1180.5V428.5H1178.5ZM1197.5 431.5H1199.5V439.5H1197.5ZM1207.5 449.5H1209.5V457.5H1207.5ZM1216.5 423.5H1218.5V430.5H1216.5ZM1221.5 415.5H1223.5V423.5H1221.5ZM1226.5 407.5H1228.5V409.5H1226.5ZM1231.5 406.5H1233.5V410.5H1231.5ZM1236.5 398.5H1238.5V408.5H1236.5ZM1269.5 415.5H1271.5V418.5H1269.5ZM1274.5 401.5H1276.5V413.5H1274.5ZM1279.5 393.5H1281.5V400.5H1279.5ZM1303.5 427.5H1305.5V433.5H1303.5ZM1312.5 420.5H1314.5V424.5H1312.5ZM1322.5 370.5H1324.5V386.5H1322.5ZM1327.5 365.5H1329.5V368.5H1327.5ZM1331.5 341.5H1333.5V361.5H1331.5ZM1346.5 357.5H1348.5V364.5H1346.5ZM1350.5 338.5H1352.5V352.5H1350.5ZM1370.5 390.5H1372.5V392.5H1370.5ZM1389.5 406.5H1391.5V417.5H1389.5ZM1394.5 352.5H1396.5V385.5H1394.5ZM1398.5 341.5H1400.5V349.5H1398.5ZM1413.5 365.5H1415.5V367.5H1413.5ZM1418.5 346.5H1420.5V350.5H1418.5ZM1432.5 275.5H1434.5V295.5H1432.5ZM1437.5 251.5H1439.5V259.5H1437.5ZM1441.5 232.5H1443.5V246.5H1441.5ZM1446.5 221.5H1448.5V232.5H1446.5ZM1456.5 219.5H1458.5V234.5H1456.5ZM1470.5 190.5H1472.5V216.5H1470.5ZM1480.5 179.5H1482.5V194.5H1480.5ZM1494.5 217.5H1496.5V221.5H1494.5ZM1499.5 192.5H1501.5V216.5H1499.5ZM1508.5 188.5H1510.5V201.5H1508.5ZM1513.5 192.5H1515.5V204.5H1513.5ZM1523.5 191.5H1525.5V202.5H1523.5ZM1528.5 151.5H1530.5V182.5H1528.5ZM1532.5 141.5H1534.5V147.5H1532.5ZM1542.5 131.5H1544.5V153.5H1542.5ZM1547.5 121.5H1549.5V128.5H1547.5ZM1552.5 90.5H1554.5V118.5H1552.5ZM1590.5 265.5H1592.5V276.5H1590.5ZM1599.5 271.5H1601.5V276.5H1599.5ZM1609.5 212.5H1611.5V270.5H1609.5ZM1619.5 218.5H1621.5V241.5H1619.5ZM1623.5 270.5H1625.5V278.5H1623.5ZM1628.5 273.5H1630.5V276.5H1628.5Z" fill="#4caf50" stroke="#1b5e20" stroke-width="1"/>
<path d="M29.5 526.5H31.5V528.5H29.5ZM39.5 519.5H41.5V525.5H39.5ZM53.5 515.5H55.5V522.5H53.5ZM72.5 495.5H74.5V502.5H72.5ZM82.5 491.5H84.5V499.5H82.5ZM86.5 502.5H88.5V506.5H86.5ZM106.5 457.5H108.5V468.5H106.5ZM115.5 430.5H117.5V440.5H115.5ZM134.5 421.5H136.5V423.5H134.5ZM144.5 411.5H146.5V427.5H144.5ZM149.5 431.5H151.5V441.5H149.5ZM158.5 447.5H160.5V453.5H158.5ZM168.5 450.5H170.5V458.5H168.5ZM173.5 460.5H175.5V477.5H173.5ZM182.5 478.5H184.5V493.5H182.5ZM187.5 493.5H189.5V496.5H187.5ZM192.5 497.5H194.5V509.5H192.5ZM201.5 495.5H203.5V502.5H201.5ZM220.5 475.5H222.5V502.5H220.5ZM230.5 420.5H232.5V427.5H230.5ZM235.5 433.5H237.5V447.5H235.5ZM240.5 448.5H242.5V453.5H240.5ZM249.5 436.5H251.5V453.5H249.5ZM264.5 449.5H266.5V453.5H264.5ZM273.5 413.5H275.5V419.5H273.5ZM283.5 409.5H285.5V436.5H283.5ZM311.5 353.5H313.5V388.5H311.5ZM326.5 342.5H328.5V378.5H326.5ZM340.5 378.5H342.5V401.5H340.5ZM359.5 371.5H361.5V382.5H359.5ZM364.5 381.5H366.5V384.5H364.5ZM378.5 343.5H380.5V368.5H378.5ZM407.5 287.5H409.5V316.5H407.5ZM417.5 274.5H419.5V307.5H417.5ZM431.5 280.5H433.5V318.5H431.5ZM441.5 314.5H443.5V358.5H441.5ZM450.5 310.5H452.5V345.5H450.5ZM469.5 220.5H471.5V277.5H469.5ZM489.5 230.5H491.5V275.5H489.5ZM493.5 294.5H495.5V302.5H493.5ZM503.5 268.5H505.5V275.5H503.5ZM513.5 298.5H515.5V309.5H513.5ZM517.5 310.5H519.5V342.5H517.5ZM527.5 383.5H529.5V399.5H527.5ZM532.5 396.5H534.5V401.5H532.5ZM541.5 362.5H543.5V372.5H541.5ZM556.5 354.5H558.5V364.5H556.5ZM594.5 216.5H596.5V246.5H594.5ZM604.5 259.5H606.5V269.5H604.5ZM613.5 251.5H615.5V274.5H613.5ZM618.5 273.5H620.5V277.5H618.5ZM623.5 277.5H625.5V291.5H623.5ZM642.5 205.5H644.5V227.5H642.5ZM661.5 221.5H663.5V257.5H661.5ZM675.5 251.5H677.5V265.5H675.5ZM690.5 239.5H692.5V271.5H690.5ZM704.5 281.5H706.5V290.5H704.5ZM723.5 245.5H725.5V251.5H723.5ZM728.5 250.5H730.5V274.5H728.5ZM742.5 252.5H744.5V290.5H742.5ZM747.5 295.5H749.5V315.5H747.5ZM752.5 320.5H754.5V341.5H752.5ZM762.5 303.5H764.5V330.5H762.5ZM771.5 338.5H773.5V362.5H771.5ZM776.5 359.5H778.5V361.5H776.5ZM781.5 363.5H783.5V373.5H781.5ZM785.5 371.5H787.5V373.5H785.5ZM790.5 379.5H792.5V405.5H790.5ZM795.5 400.5H797.5V406.5H795.5ZM800.5 400.5H802.5V404.5H800.5ZM805.5 406.5H807.5V417.5H805.5ZM824.5 354.5H826.5V362.5H824.5ZM838.5 314.5H840.5V331.5H838.5ZM843.5 328.5H845.5V342.5H843.5ZM853.5 319.5H855.5V325.5H853.5ZM862.5 300.5H864.5V317.5H862.5ZM867.5 313.5H869.5V317.5H867.5ZM872.5 321.5H874.5V339.5H872.5ZM876.5 342.5H878.5V357.5H876.5ZM881.5 355.5H883.5V360.5H881.5ZM886.5 370.5H888.5V391.5H886.5ZM896.5 349.5H898.5V356.5H896.5ZM900.5 358.5H902.5V371.5H900.5ZM915.5 302.5H917.5V329.5H915.5ZM920.5 333.5H922.5V335.5H920.5ZM924.5 333.5H926.5V344.5H924.5ZM934.5 303.5H936.5V307.5H934.5ZM939.5 306.5H941.5V308.5H939.5ZM943.5 310.5H945.5V312.5H943.5ZM953.5 307.5H955.5V319.5H953.5ZM958.5 322.5H960.5V333.5H958.5ZM963.5 334.5H965.5V336.5H963.5ZM967.5 335.5H969.5V339.5H967.5ZM991.5 270.5H993.5V289.5H991.5ZM996.5 275.5H998.5V310.5H996.5ZM1001.5 313.5H1003.5V332.5H1001.5ZM1006.5 331.5H1008.5V351.5H1006.5ZM1011.5 326.5H1013.5V333.5H1011.5ZM1020.5 305.5H1022.5V344.5H1020.5ZM1025.5 344.5H1027.5V349.5H1025.5ZM1034.5 338.5H1036.5V350.5H1034.5ZM1044.5 351.5H1046.5V360.5H1044.5ZM1049.5 359.5H1051.5V376.5H1049.5ZM1058.5 356.5H1060.5V362.5H1058.5ZM1078.5 330.5H1080.5V332.5H1078.5ZM1087.5 343.5H1089.5V362.5H1087.5ZM1092.5 363.5H1094.5V371.5H1092.5ZM1097.5 372.5H1099.5V396.5H1097.5ZM1111.5 394.5H1113.5V407.5H1111.5ZM1121.5 384.5H1123.5V400.5H1121.5ZM1130.5 393.5H1132.5V395.5H1130.5ZM1135.5 398.5H1137.5V415.5H1135.5ZM1149.5 393.5H1151.5V397.5H1149.5ZM1154.5 395.5H1156.5V408.5H1154.5ZM1164.5 410.5H1166.5V432.5H1164.5ZM1188.5 420.5H1190.5V439.5H1188.5ZM1202.5 433.5H1204.5V449.5H1202.5ZM1245.5 396.5H1247.5V400.5H1245.5ZM1259.5 392.5H1261.5V402.5H1259.5ZM1264.5 403.5H1266.5V416.5H1264.5ZM1283.5 391.5H1285.5V393.5H1283.5ZM1288.5 396.5H1290.5V415.5H1288.5ZM1293.5 415.5H1295.5V422.5H1293.5ZM1298.5 419.5H1300.5V433.5H1298.5ZM1317.5 376.5H1319.5V378.5H1317.5ZM1336.5 344.5H1338.5V346.5H1336.5ZM1341.5 350.5H1343.5V362.5H1341.5ZM1355.5 334.5H1357.5V361.5H1355.5ZM1360.5 360.5H1362.5V369.5H1360.5ZM1365.5 374.5H1367.5V391.5H1365.5ZM1374.5 393.5H1376.5V402.5H1374.5ZM1384.5 402.5H1386.5V415.5H1384.5ZM1403.5 339.5H1405.5V345.5H1403.5ZM1408.5 346.5H1410.5V359.5H1408.5ZM1422.5 350.5H1424.5V359.5H1422.5ZM1427.5 292.5H1429.5V294.5H1427.5ZM1451.5 224.5H1453.5V236.5H1451.5ZM1461.5 211.5H1463.5V225.5H1461.5ZM1465.5 202.5H1467.5V222.5H1465.5ZM1485.5 186.5H1487.5V190.5H1485.5ZM1489.5 195.5H1491.5V218.5H1489.5ZM1504.5 190.5H1506.5V203.5H1504.5ZM1518.5 180.5H1520.5V202.5H1518.5ZM1537.5 144.5H1539.5V151.5H1537.5ZM1556.5 116.5H1558.5V141.5H1556.5ZM1561.5 148.5H1563.5V188.5H1561.5ZM1571.5 182.5H1573.5V236.5H1571.5ZM1576.5 237.5H1578.5V253.5H1576.5ZM1580.5 245.5H1582.5V266.5H1580.5ZM1585.5 263.5H1587.5V283.5H1585.5ZM1595.5 252.5H1597.5V280.5H1595.5ZM1604.5 257.5H1606.5V273.5H1604.5ZM1614.5 211.5H1616.5V234.5H1614.5Z" fill="#f23645" stroke="#5e0e14" stroke-width="1"/>
<path d="M19 533h3v1h-3zM48 507h3v2h-3zM153 444h3v1h-3zM225 427h3v2h-3zM316 357h3v1h-3zM350 396h3v1h-3zM383 377h3v1h-3zM393 355h3v1h-3zM436 315h3v1h-3zM766 334h3v1h-3zM1106 392h3v1h-3zM1183 422h3v2h-3zM1212 446h3v1h-3zM1250 394h3v1h-3zM1255 391h3v2h-3zM1475 195h3v1h-3zM1566 186h3v2h-3z" fill="#1b5e20"/>
<path d="M130 420h3v2h-3zM259 448h3v1h-3zM335 376h3v1h-3zM345 400h3v1h-3zM355 395h3v1h-3zM656 205h3v2h-3zM709 287h3v1h-3zM809 415h3v1h-3zM1192 440h3v1h-3zM1240 396h3v1h-3zM1307 426h3v1h-3zM1379 403h3v2h-3z" fill="#5e0e14"/>
<line x1="1025.3" y1="326.2" x2="1462.5" y2="340.2" stroke="#f23645" stroke-width="1.8"/>
<path d="M1063.7 362.6 L1066.7 365.7 L1069.7 368.7 L1072.7 371.7 L1075.7 374.7 L1078.7 377.6 L1081.7 380.5 L1084.7 383.3 L1087.7 386.1 L1090.7 388.8 L1093.7 391.5 L1096.7 394.1 L1099.7 396.7 L1102.7 399.3 L1105.7 401.7 L1108.7 404.2 L1111.7 406.5 L1114.7 408.8 L1117.7 411.1 L1120.7 413.3 L1123.7 415.4 L1126.7 417.5 L1129.7 419.5 L1132.7 421.4 L1135.7 423.3 L1138.7 425.2 L1141.7 427 L1144.7 428.7 L1147.7 430.4 L1150.7 432.1 L1153.7 433.8 L1156.7 435.4 L1159.7 437 L1162.7 438.5 L1165.7 440.1 L1168.7 441.5 L1171.7 443 L1174.7 444.4 L1177.7 445.7 L1180.7 447 L1183.7 448.2 L1186.7 449.3 L1189.7 450.4 L1192.7 451.3 L1195.7 452.2 L1198.7 453 L1201.7 453.7 L1204.7 454.3 L1207.7 454.8 L1210.7 455.2 L1213.7 455.5 L1216.7 455.8 L1219.7 456 L1222.7 456.1 L1225.7 456.2 L1228.7 456.2 L1231.7 456.2 L1234.7 456.1 L1237.7 456 L1240.7 455.8 L1243.7 455.6 L1246.7 455.2 L1249.7 454.7 L1252.7 454.1 L1255.7 453.4 L1258.7 452.7 L1261.7 451.9 L1264.7 451.1 L1267.7 450.3 L1270.7 449.4 L1273.7 448.6 L1276.7 447.6 L1279.7 446.6 L1282.7 445.4 L1285.7 444 L1288.7 442.4 L1291.7 440.6 L1294.7 438.8 L1297.7 436.9 L1300.7 435 L1303.7 433.1 L1306.7 431.1 L1309.7 429.1 L1312.7 427 L1315.7 424.8 L1318.7 422.5 L1321.7 420.1 L1324.7 417.5 L1327.7 414.9 L1330.7 412.1 L1333.7 409.2 L1336.7 406.3 L1339.7 403.3 L1342.7 400.3 L1345.7 397.3 L1348.7 394.3 L1351.7 391.3 L1354.7 388.4 L1357.7 385.5 L1360.7 382.7 L1361.5 382" fill="none" stroke="#f23645" stroke-width="2.5" stroke-linecap="round"/>
<line x1="1356.8" y1="387.7" x2="1385.6" y2="426.8" stroke="#f23645" stroke-width="1.7"/>
<line x1="1394" y1="422.3" x2="1433" y2="347.5" stroke="#f23645" stroke-width="1.7"/>
<path d="M1474.5 375.6 L1496.5 389.3 H1688.7 A7.5 7.5 0 0 1 1696.2 396.8 V425.1 A7.5 7.5 0 0 1 1688.7 432.6 H1493 A7.5 7.5 0 0 1 1485.5 425.1 V400 Z" fill="#f23645" stroke="#2962ff" stroke-width="0.8"/>
<text y="415.8" font-size="17.3" fill="#ffffff" font-weight="bold"><tspan x="1499.3" textLength="53.3" lengthAdjust="spacingAndGlyphs">Bullish</tspan> <tspan x="1558.9" textLength="41.2" lengthAdjust="spacingAndGlyphs">Price</tspan> <tspan x="1605.7" textLength="77" lengthAdjust="spacingAndGlyphs">Structure</tspan></text>
</g>
<text y="58.7" font-size="14" fill="#4a4d57"><tspan x="23.6" textLength="48.6" lengthAdjust="spacingAndGlyphs">Natural</tspan> <tspan x="77.7" textLength="23.5" lengthAdjust="spacingAndGlyphs">Gas</tspan> <tspan x="106.3" textLength="49.6" lengthAdjust="spacingAndGlyphs">Futures</tspan> <tspan x="160.6" textLength="4.4" lengthAdjust="spacingAndGlyphs" font-weight="bold">·</tspan> <tspan x="171.9" textLength="15.4" lengthAdjust="spacingAndGlyphs">1D</tspan> <tspan x="192.8" textLength="4.4" lengthAdjust="spacingAndGlyphs" font-weight="bold">·</tspan> <tspan x="203" textLength="44.1" lengthAdjust="spacingAndGlyphs">NYMEX</tspan></text>
<text x="257" y="58.7" font-size="14" fill="#4a4d57" textLength="10.2" lengthAdjust="spacingAndGlyphs">O</text>
<text x="267.5" y="58.7" font-size="14" fill="#1f5a33" textLength="35.9" lengthAdjust="spacingAndGlyphs">3.947</text>
<text x="313.3" y="58.7" font-size="14" fill="#4a4d57" textLength="9.3" lengthAdjust="spacingAndGlyphs">H</text>
<text x="322.9" y="58.7" font-size="14" fill="#1f5a33" textLength="36.5" lengthAdjust="spacingAndGlyphs">3.968</text>
<text x="369" y="58.7" font-size="14" fill="#4a4d57" textLength="7.3" lengthAdjust="spacingAndGlyphs">L</text>
<text x="376.6" y="58.7" font-size="14" fill="#1f5a33" textLength="36.1" lengthAdjust="spacingAndGlyphs">3.942</text>
<text x="422.6" y="58.7" font-size="14" fill="#4a4d57" textLength="8.7" lengthAdjust="spacingAndGlyphs">C</text>
<text x="431.6" y="58.7" font-size="14" fill="#1f5a33" textLength="36.4" lengthAdjust="spacingAndGlyphs">3.965</text>
<text x="477.6" y="58.7" font-size="14" fill="#1f5a33" textLength="105.9" lengthAdjust="spacingAndGlyphs">−0.021 (−0.53%)</text>
<text y="79.8" font-size="14" fill="#4a4d57"><tspan x="23.6" textLength="25.5" lengthAdjust="spacingAndGlyphs">SMA</tspan> <tspan x="55.4" textLength="23.9" lengthAdjust="spacingAndGlyphs">(50,</tspan> <tspan x="85.6" textLength="39.2" lengthAdjust="spacingAndGlyphs">close)</tspan></text>
<text x="134.7" y="79.8" font-size="14" fill="#2962ff" textLength="36" lengthAdjust="spacingAndGlyphs">4.257</text>
<text y="100.5" font-size="14" fill="#4a4d57"><tspan x="23.6" textLength="25.5" lengthAdjust="spacingAndGlyphs">SMA</tspan> <tspan x="55.4" textLength="31.7" lengthAdjust="spacingAndGlyphs">(200,</tspan> <tspan x="93.4" textLength="38.8" lengthAdjust="spacingAndGlyphs">close)</tspan></text>
<text x="142.5" y="100.5" font-size="14" fill="#2a2e39" textLength="36.5" lengthAdjust="spacingAndGlyphs">3.570</text>
<rect x="1727" y="34.5" width="1" height="677" fill="#454545"/>
<rect x="13" y="672" width="1789" height="1" fill="#454545"/>
<g clip-path="url(#cpAxisMain)">
<text x="1739.6" y="135.9" font-size="16.6" fill="#40434e" textLength="42.7" lengthAdjust="spacingAndGlyphs">5.000</text>
<text x="1739.6" y="205.1" font-size="16.6" fill="#40434e" textLength="42.7" lengthAdjust="spacingAndGlyphs">4.500</text>
<text x="1739.6" y="343.5" font-size="16.6" fill="#40434e" textLength="42.7" lengthAdjust="spacingAndGlyphs">3.500</text>
<text x="1739.6" y="412.7" font-size="16.6" fill="#40434e" textLength="42.7" lengthAdjust="spacingAndGlyphs">3.000</text>
<text x="1739.6" y="481.9" font-size="16.6" fill="#40434e" textLength="42.7" lengthAdjust="spacingAndGlyphs">2.500</text>
<text x="1739.6" y="551.1" font-size="16.6" fill="#40434e" textLength="42.7" lengthAdjust="spacingAndGlyphs">2.000</text>
</g>
<rect x="1732.2" y="39.2" width="64" height="61.5" rx="4.5" fill="#ffffff" stroke="#f0f1f3" stroke-width="1.6"/>
<text x="1743.8" y="59.8" font-size="14.4" fill="#2a2e39" textLength="25.1" lengthAdjust="spacingAndGlyphs">USD</text>
<text x="1743.8" y="90.8" font-size="14.4" fill="#2a2e39" textLength="42.7" lengthAdjust="spacingAndGlyphs">MMBtu</text>
<path d="M1727.5 261 H1788 A2 2 0 0 1 1790 263 V284 A2 2 0 0 1 1788 286 H1727.5 Z" fill="#4caf50"/>
<text x="1740.4" y="279.1" font-size="16.6" fill="#ffffff" font-weight="bold" textLength="42.6" lengthAdjust="spacingAndGlyphs">3.965</text>
<text x="1739.2" y="599.4" font-size="16.6" fill="#40434e" textLength="43" lengthAdjust="spacingAndGlyphs">60.00</text>
<text x="1739.2" y="645.9" font-size="16.6" fill="#40434e" textLength="43" lengthAdjust="spacingAndGlyphs">40.00</text>
<text x="21.7" y="697.6" font-size="16.6" fill="#40434e" textLength="27.6" lengthAdjust="spacingAndGlyphs">Sep</text>
<text x="117.7" y="697.6" font-size="16.6" fill="#40434e" textLength="27.6" lengthAdjust="spacingAndGlyphs">Oct</text>
<text x="226.7" y="697.6" font-size="16.6" fill="#40434e" textLength="29.7" lengthAdjust="spacingAndGlyphs">Nov</text>
<text x="322.4" y="697.6" font-size="16.6" fill="#40434e" textLength="28.1" lengthAdjust="spacingAndGlyphs">Dec</text>
<text x="417.7" y="697.6" font-size="16.6" fill="#2a2e39" font-weight="bold" textLength="39.6" lengthAdjust="spacingAndGlyphs">2025</text>
<text x="523.5" y="697.6" font-size="16.6" fill="#40434e" textLength="28.1" lengthAdjust="spacingAndGlyphs">Feb</text>
<text x="614.2" y="697.6" font-size="16.6" fill="#40434e" textLength="28.6" lengthAdjust="spacingAndGlyphs">Mar</text>
<text x="716" y="697.6" font-size="16.6" fill="#40434e" textLength="27" lengthAdjust="spacingAndGlyphs">Apr</text>
<text x="815.5" y="697.6" font-size="16.6" fill="#40434e" textLength="30.1" lengthAdjust="spacingAndGlyphs">May</text>
<text x="916.7" y="697.6" font-size="16.6" fill="#40434e" textLength="27.6" lengthAdjust="spacingAndGlyphs">Jun</text>
<text x="1015.2" y="697.6" font-size="16.6" fill="#40434e" textLength="22.6" lengthAdjust="spacingAndGlyphs">Jul</text>
<text x="1117.2" y="697.6" font-size="16.6" fill="#40434e" textLength="28.6" lengthAdjust="spacingAndGlyphs">Aug</text>
<text x="1218.7" y="697.6" font-size="16.6" fill="#40434e" textLength="27.6" lengthAdjust="spacingAndGlyphs">Sep</text>
<text x="1319.2" y="697.6" font-size="16.6" fill="#40434e" textLength="26.5" lengthAdjust="spacingAndGlyphs">Oct</text>
<text x="1428" y="697.6" font-size="16.6" fill="#40434e" textLength="29" lengthAdjust="spacingAndGlyphs">Nov</text>
<text x="1519.2" y="697.6" font-size="16.6" fill="#40434e" textLength="28.6" lengthAdjust="spacingAndGlyphs">Dec</text>
<text x="1619.7" y="697.6" font-size="16.6" fill="#2a2e39" font-weight="bold" textLength="39.6" lengthAdjust="spacingAndGlyphs">2026</text>
<g fill="#141414">
<path d="M15.5 739.6 H30.8 V757.9 H23.1 V746.6 H15.5 Z"/>
<circle cx="36.8" cy="743.1" r="3.55"/>
<path d="M43.8 739.6 H52.7 L45.0 757.9 H36.2 Z"/>
</g>
<text x="61.8" y="757.8" font-size="25.4" font-weight="bold" fill="#141414" stroke="#141414" stroke-width="0.35"><tspan x="61.8" textLength="89.6" lengthAdjust="spacingAndGlyphs">Trading</tspan><tspan x="151.3" textLength="62.2" lengthAdjust="spacingAndGlyphs">View</tspan></text>
</svg></body></html>
